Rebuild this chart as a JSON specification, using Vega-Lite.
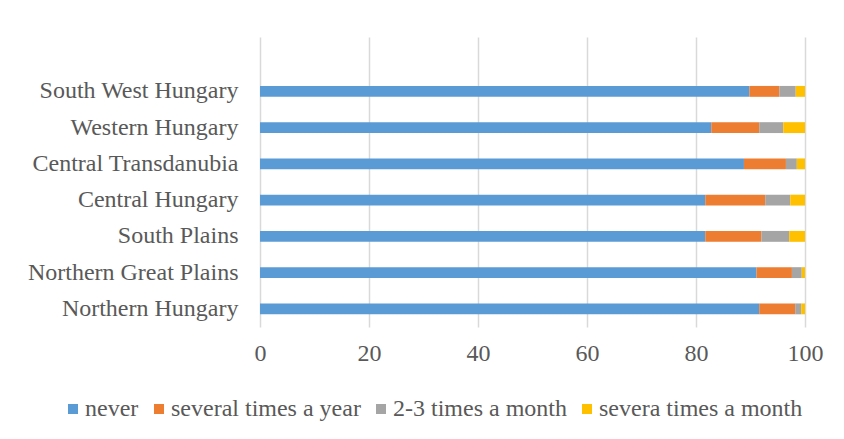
{
  "$schema": "https://vega.github.io/schema/vega-lite/v6.json",
  "autosize": "none",
  "width": 545,
  "height": 290,
  "padding": {"left": 260, "top": 37, "right": 39, "bottom": 112},
  "background": "white",
  "config": {
    "view": {"stroke": null},
    "font": "Liberation Serif",
    "axis": {"labelFont": "Liberation Serif"},
    "legend": {"labelFont": "Liberation Serif"}
  },
  "data": {
    "values": [
      {"region": "South West Hungary", "freq": "never", "k": 1, "value": 89.8},
      {"region": "South West Hungary", "freq": "several times a year", "k": 2, "value": 5.5},
      {"region": "South West Hungary", "freq": "2-3 times a month", "k": 3, "value": 3.0},
      {"region": "South West Hungary", "freq": "severa times a month", "k": 4, "value": 1.7},
      {"region": "Western Hungary", "freq": "never", "k": 1, "value": 82.8},
      {"region": "Western Hungary", "freq": "several times a year", "k": 2, "value": 8.8},
      {"region": "Western Hungary", "freq": "2-3 times a month", "k": 3, "value": 4.4},
      {"region": "Western Hungary", "freq": "severa times a month", "k": 4, "value": 4.0},
      {"region": "Central Transdanubia", "freq": "never", "k": 1, "value": 88.8},
      {"region": "Central Transdanubia", "freq": "several times a year", "k": 2, "value": 7.7},
      {"region": "Central Transdanubia", "freq": "2-3 times a month", "k": 3, "value": 2.0},
      {"region": "Central Transdanubia", "freq": "severa times a month", "k": 4, "value": 1.5},
      {"region": "Central Hungary", "freq": "never", "k": 1, "value": 81.7},
      {"region": "Central Hungary", "freq": "several times a year", "k": 2, "value": 11.0},
      {"region": "Central Hungary", "freq": "2-3 times a month", "k": 3, "value": 4.6},
      {"region": "Central Hungary", "freq": "severa times a month", "k": 4, "value": 2.7},
      {"region": "South Plains", "freq": "never", "k": 1, "value": 81.7},
      {"region": "South Plains", "freq": "several times a year", "k": 2, "value": 10.3},
      {"region": "South Plains", "freq": "2-3 times a month", "k": 3, "value": 5.1},
      {"region": "South Plains", "freq": "severa times a month", "k": 4, "value": 2.9},
      {"region": "Northern Great Plains", "freq": "never", "k": 1, "value": 91.1},
      {"region": "Northern Great Plains", "freq": "several times a year", "k": 2, "value": 6.5},
      {"region": "Northern Great Plains", "freq": "2-3 times a month", "k": 3, "value": 1.8},
      {"region": "Northern Great Plains", "freq": "severa times a month", "k": 4, "value": 0.6},
      {"region": "Northern Hungary", "freq": "never", "k": 1, "value": 91.6},
      {"region": "Northern Hungary", "freq": "several times a year", "k": 2, "value": 6.6},
      {"region": "Northern Hungary", "freq": "2-3 times a month", "k": 3, "value": 1.1},
      {"region": "Northern Hungary", "freq": "severa times a month", "k": 4, "value": 0.7}
    ]
  },
  "mark": {"type": "bar"},
  "encoding": {
    "y": {
      "field": "region",
      "type": "nominal",
      "scale": {
        "domain": [" ", "South West Hungary", "Western Hungary", "Central Transdanubia", "Central Hungary", "South Plains", "Northern Great Plains", "Northern Hungary"],
        "paddingInner": 0.7,
        "paddingOuter": 0.35
      },
      "axis": {
        "title": null,
        "domain": false,
        "ticks": false,
        "grid": false,
        "labelFontSize": 24,
        "labelColor": "#595959",
        "labelPadding": 22,
        "labelLimit": 300
      }
    },
    "x": {
      "field": "value",
      "type": "quantitative",
      "stack": "zero",
      "scale": {"domain": [0, 100], "nice": false},
      "axis": {
        "title": null,
        "values": [0, 20, 40, 60, 80, 100],
        "domain": false,
        "ticks": false,
        "grid": true,
        "gridColor": "#d9d9d9",
        "gridWidth": 1.5,
        "labelFontSize": 24,
        "labelColor": "#595959",
        "labelPadding": 14,
        "labelFlush": false
      }
    },
    "color": {
      "field": "freq",
      "type": "nominal",
      "scale": {
        "domain": ["never", "several times a year", "2-3 times a month", "severa times a month"],
        "range": ["#5B9BD5", "#ED7D31", "#A5A5A5", "#FFC000"]
      },
      "legend": {
        "title": null,
        "orient": "none",
        "direction": "horizontal",
        "legendX": -199,
        "legendY": 360,
        "symbolType": "square",
        "symbolSize": 100,
        "symbolStrokeWidth": 0,
        "labelFont": "Liberation Serif",
        "labelFontSize": 24,
        "labelColor": "#595959",
        "labelOffset": 0,
        "columnPadding": 8,
        "labelLimit": 300
      }
    },
    "order": {"field": "k", "type": "quantitative"}
  }
}
